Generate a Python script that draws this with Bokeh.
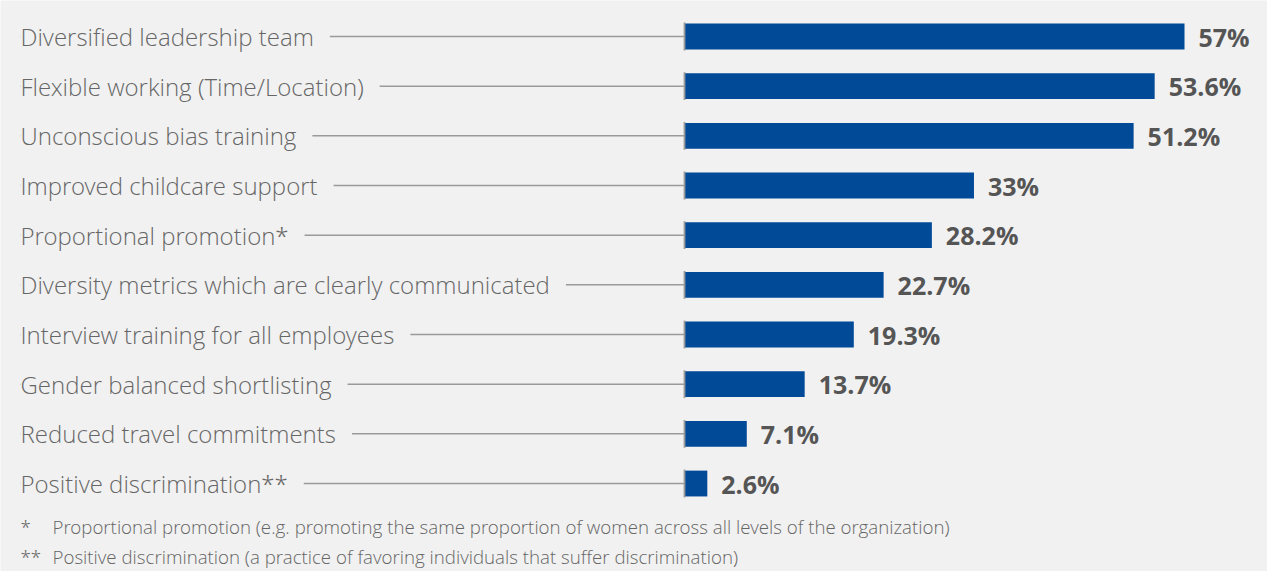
from bokeh.plotting import figure
from bokeh.models import ColumnDataSource, Range1d, Label
from bokeh.core.properties import value
from bokeh.embed import file_html
from bokeh.resources import INLINE

categories = [
    "Diversified leadership team",
    "Flexible working (Time/Location)",
    "Unconscious bias training",
    "Improved childcare support",
    "Proportional promotion*",
    "Diversity metrics which are clearly communicated",
    "Interview training for all employees",
    "Gender balanced shortlisting",
    "Reduced travel commitments",
    "Positive discrimination**",
]
values = [57, 53.6, 51.2, 33, 28.2, 22.7, 19.3, 13.7, 7.1, 2.6]
value_labels = [f"{v:g}%" for v in values]
footnote_marks = ["*", "**"]
footnotes = [
    "Proportional promotion (e.g. promoting the same proportion of women across all levels of the organization)",
    "Positive discrimination (a practice of favoring individuals that suffer discrimination)",
]

BG = "#f1f1f1"
BLUE = "#004a98"
LIGHT_FONT = "'Open Sans Light', 'Open Sans'"
W, H = 1267, 571
AXIS_PX = 684
PX_PER_PCT = 500 / 57
ROW_PX = 49.67
FIRST_ROW_PX = 36
LABEL_PX = 20

x_start = -AXIS_PX / PX_PER_PCT
x_end = (W - AXIS_PX) / PX_PER_PCT
y_top = -FIRST_ROW_PX / ROW_PX
y_bottom = y_top + H / ROW_PX
label_x = x_start + LABEL_PX / PX_PER_PCT

ys = list(range(len(categories)))
src = ColumnDataSource(dict(
    y=ys,
    y_lo=[y - 0.28 for y in ys],
    y_hi=[y + 0.28 for y in ys],
    label=categories,
    value=values,
    vlabel=value_labels,
    lx=[label_x] * len(ys),
    zero=[0] * len(ys),
))

p = figure(width=W, height=H, x_range=Range1d(x_start, x_end),
           y_range=Range1d(y_bottom, y_top), output_backend="svg",
           toolbar_location=None, min_border=0, title=None,
           x_axis_location=None, y_axis_location=None,
           background_fill_color=BG, border_fill_color=BG,
           outline_line_color=None)
p.grid.visible = False

p.segment(x0="lx", y0="y", x1="zero", y1="y", source=src,
          line_color="#9a9a9a", line_width=1.5)
p.hbar(y="y", left=0, right="value", height=0.52, source=src,
       fill_color=BLUE, line_color=None)
p.segment(x0="zero", y0="y_lo", x1="zero", y1="y_hi", source=src,
          line_color="#9a9a9a", line_width=1.8)

p.text(x="lx", y="y", text="label", source=src,
       text_font=value(LIGHT_FONT), text_font_size="24px",
       text_color="#666666", text_baseline="middle", text_align="left",
       background_fill_color=BG,
       padding=dict(left=0, right=16, top=0, bottom=0))

p.text(x="value", y="y", text="vlabel", source=src, x_offset=14,
       text_font=value("Open Sans"), text_font_size="25px",
       text_font_style="bold", text_color="#555555",
       text_baseline="middle", text_align="left")

foot_y = [H - 526, H - 556]
for mark, note, fy in zip(footnote_marks, footnotes, foot_y):
    p.add_layout(Label(x=20, y=fy, x_units="screen", y_units="screen",
                       text=mark, text_font=LIGHT_FONT, text_font_size="18.7px",
                       text_color="#666666", text_baseline="middle"))
    p.add_layout(Label(x=52, y=fy, x_units="screen", y_units="screen",
                       text=note, text_font=LIGHT_FONT, text_font_size="18.7px",
                       text_color="#666666", text_baseline="middle"))

open("out.html", "w").write(file_html(p, INLINE))
